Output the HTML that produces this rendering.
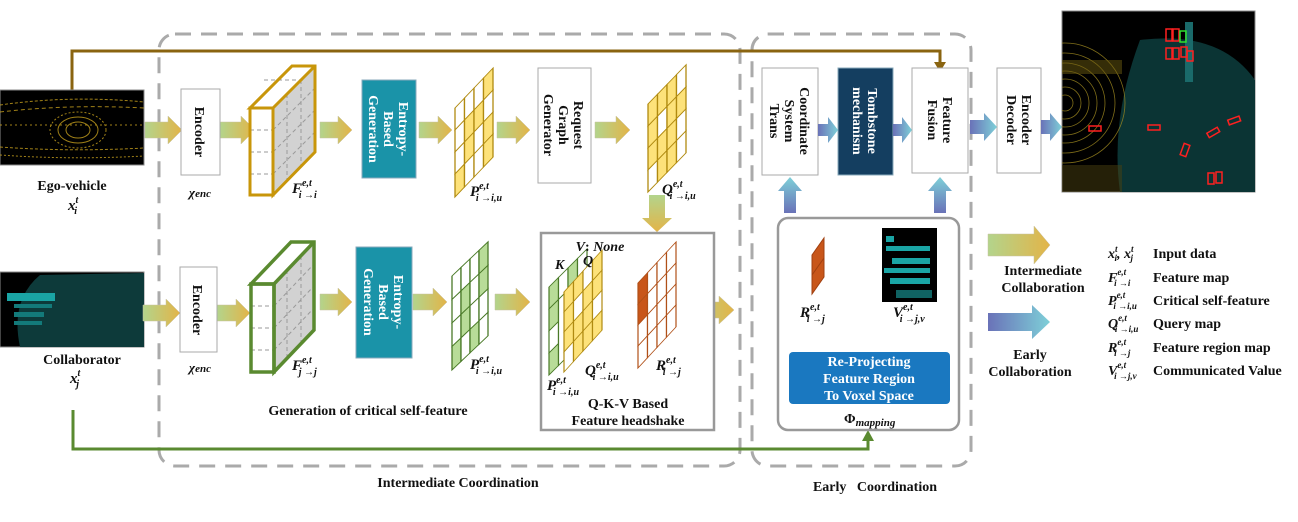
<!DOCTYPE html>
<html><head><meta charset="utf-8">
<style>
html,body{margin:0;padding:0;background:#fff;}
svg{display:block;}
text{font-family:"Liberation Serif",serif;font-weight:bold;fill:#111;}
.m{font-style:italic;}
.w{fill:#fff;}
</style></head>
<body>
<svg width="1298" height="522" viewBox="0 0 1298 522" xmlns="http://www.w3.org/2000/svg">
<defs>
<linearGradient id="ga" x1="0" y1="0" x2="1" y2="0"><stop offset="0" stop-color="#b3d48c"/><stop offset="1" stop-color="#e3b448"/></linearGradient>
<linearGradient id="gav" x1="0" y1="0" x2="0" y2="1"><stop offset="0" stop-color="#b3d48c"/><stop offset="1" stop-color="#e3b448"/></linearGradient>
<linearGradient id="gb" x1="0" y1="0" x2="1" y2="0"><stop offset="0" stop-color="#6a72b8"/><stop offset="1" stop-color="#7ed0d8"/></linearGradient>
<linearGradient id="gbu" x1="0" y1="1" x2="0" y2="0"><stop offset="0" stop-color="#6a72b8"/><stop offset="1" stop-color="#7ed0d8"/></linearGradient>
<linearGradient id="gbd" x1="0" y1="0" x2="0" y2="1"><stop offset="0" stop-color="#6a72b8"/><stop offset="1" stop-color="#7ed0d8"/></linearGradient>
<clipPath id="cres"><rect x="1062" y="11" width="193" height="181"/></clipPath>
<clipPath id="cego"><rect x="0" y="90" width="144" height="75"/></clipPath>
</defs>

<!-- dashed containers -->
<rect x="159" y="34" width="581" height="432" rx="16" fill="none" stroke="#aaa" stroke-width="3" stroke-dasharray="16,10"/>
<rect x="752" y="34" width="219" height="432" rx="16" fill="none" stroke="#aaa" stroke-width="3" stroke-dasharray="16,10"/>
<text x="458" y="487" font-size="14" text-anchor="middle">Intermediate Coordination</text>
<text x="875" y="491" font-size="14" text-anchor="middle">Early&#160;&#160; Coordination</text>

<!-- ego top line -->
<polyline points="72,90 72,51 940,51 940,64" fill="none" stroke="#8a6410" stroke-width="3"/>
<polygon points="934,62 946,62 940,72" fill="#8a6410"/>
<!-- green bottom line -->
<polyline points="73,410 73,449 868,449 868,440" fill="none" stroke="#5a8a30" stroke-width="3"/>
<polygon points="862,441 874,441 868,430" fill="#5a8a30"/>

<!-- ego image -->
<rect x="0" y="90" width="144" height="75" fill="#000" stroke="#888"/>
<g stroke="#c9a21e" fill="none" stroke-width="1" opacity="0.8" clip-path="url(#cego)">
<path d="M0,105 Q70,95 144,102" stroke-dasharray="3,2"/>
<path d="M0,112 Q70,104 144,108" stroke-dasharray="4,3"/>
<path d="M0,147 Q70,152 144,148" stroke-dasharray="3,2"/>
<path d="M0,155 Q70,160 144,156" stroke-dasharray="2,2"/>
<ellipse cx="78" cy="130" rx="12" ry="8"/><ellipse cx="78" cy="130" rx="20" ry="13"/><ellipse cx="78" cy="130" rx="28" ry="18" stroke-dasharray="2,2"/>
<line x1="0" y1="125" x2="144" y2="125" stroke-dasharray="2,3"/>
</g>
<text x="72" y="190" font-size="14" text-anchor="middle">Ego-vehicle</text>
<text x="68" y="210" font-size="15" class="m">x<tspan dy="-7" font-size="10">t</tspan><tspan dx="-4" dy="11" font-size="10">i</tspan></text>

<!-- collaborator image -->
<rect x="0" y="272" width="144" height="75" fill="#000" stroke="#888"/>
<path d="M20,347 Q10,300 40,275 L144,273 L144,347 Z" fill="#0d3a3a"/>
<rect x="7" y="293" width="48" height="8" fill="#1aa5a5"/>
<rect x="14" y="304" width="38" height="4" fill="#137a7a"/>
<rect x="14" y="312" width="30" height="5" fill="#137a7a"/>
<rect x="14" y="321" width="28" height="4" fill="#137a7a"/>
<text x="82" y="364" font-size="14" text-anchor="middle">Collaborator</text>
<text x="70" y="383" font-size="15" class="m">x<tspan dy="-7" font-size="10">t</tspan><tspan dx="-4" dy="11" font-size="10">j</tspan></text>

<!-- gold arrows -->
<g fill="url(#ga)" stroke="#c8c0a0" stroke-width="0.5">
<polygon points="145,122 168,122 168,116 182,130 168,144 168,138 145,138"/>
<polygon points="220,122 241,122 241,116 255,130 241,144 241,138 220,138"/>
<polygon points="320,122 338,122 338,116 352,130 338,144 338,138 320,138"/>
<polygon points="419,122 438,122 438,116 452,130 438,144 438,138 419,138"/>
<polygon points="497,122 516,122 516,116 530,130 516,144 516,138 497,138"/>
<polygon points="595,122 616,122 616,116 630,130 616,144 616,138 595,138"/>
<polygon points="143,305 166,305 166,299 180,313 166,327 166,321 143,321"/>
<polygon points="217,305 236,305 236,299 250,313 236,327 236,321 217,321"/>
<polygon points="320,294 338,294 338,288 352,302 338,316 338,310 320,310"/>
<polygon points="413,294 433,294 433,288 447,302 433,316 433,310 413,310"/>
<polygon points="495,294 516,294 516,288 530,302 516,316 516,310 495,310"/>
<polygon points="602,302 624,302 624,296 638,310 624,324 624,318 602,318"/>
<polygon points="685,302 719,302 719,296 734,310 719,324 719,318 685,318"/>
<polygon points="988,234 1034,234 1034,226 1050,245 1034,264 1034,256 988,256"/>
</g>
<polygon points="649,195 665,195 665,218 672,218 657,232 642,218 649,218" fill="url(#gav)"/>

<!-- encoders -->
<rect x="181" y="89" width="39" height="86" fill="#fff" stroke="#aaa"/>
<text transform="translate(200,132) rotate(90)" x="0" y="5" font-size="14" text-anchor="middle">Encoder</text>
<text x="200" y="197" font-size="13" text-anchor="middle" font-weight="normal" class="m">χ<tspan font-size="11">enc</tspan></text>
<rect x="180" y="267" width="37" height="85" fill="#fff" stroke="#aaa"/>
<text transform="translate(198,310) rotate(90)" x="0" y="5" font-size="14" text-anchor="middle">Encoder</text>
<text x="200" y="372" font-size="13" text-anchor="middle" font-weight="normal" class="m">χ<tspan font-size="11">enc</tspan></text>

<!-- gold cube -->
<polygon points="273,108 315,66 315,152 273,195" fill="#d2d2d2"/>
<polygon points="250,108 273,108 315,66 292,66" fill="#fff"/>
<rect x="250" y="108" width="23" height="87" fill="#fff"/>
<g stroke="#999" stroke-dasharray="4,3" fill="none">
<line x1="250" y1="130" x2="273" y2="130"/><line x1="250" y1="152" x2="273" y2="152"/><line x1="250" y1="174" x2="273" y2="174"/>
<line x1="287" y1="94" x2="287" y2="181"/><line x1="301" y1="80" x2="301" y2="167"/>
<line x1="273" y1="130" x2="315" y2="88"/><line x1="273" y1="152" x2="315" y2="110"/><line x1="273" y1="174" x2="315" y2="132"/>
<line x1="264" y1="80" x2="306" y2="80"/>
</g>
<g fill="none" stroke="#c8960a" stroke-width="3" stroke-linejoin="miter">
<rect x="250" y="108" width="23" height="87"/>
<polygon points="250,108 292,66 315,66 315,152 273,195 273,108"/>
<line x1="273" y1="108" x2="315" y2="66"/>
</g>
<text x="292" y="193" font-size="15" class="m">F<tspan dy="-7" font-size="10">e,t</tspan><tspan dx="-13" dy="12" font-size="10">i →i</tspan></text>

<!-- green cube -->
<polygon points="274,284 314,242 314,330 274,372" fill="#d2d2d2"/>
<polygon points="251,284 274,284 314,242 291,242" fill="#fff"/>
<rect x="251" y="284" width="23" height="88" fill="#fff"/>
<g stroke="#999" stroke-dasharray="4,3" fill="none">
<line x1="251" y1="306" x2="274" y2="306"/><line x1="251" y1="328" x2="274" y2="328"/><line x1="251" y1="350" x2="274" y2="350"/>
<line x1="287" y1="270" x2="287" y2="358"/><line x1="301" y1="256" x2="301" y2="344"/>
<line x1="274" y1="306" x2="314" y2="264"/><line x1="274" y1="328" x2="314" y2="286"/><line x1="274" y1="350" x2="314" y2="308"/>
</g>
<g fill="none" stroke="#5a8a30" stroke-width="3.5">
<rect x="251" y="284" width="23" height="88"/>
<polygon points="251,284 291,242 314,242 314,330 274,372 274,284"/>
<line x1="274" y1="284" x2="314" y2="242"/>
</g>
<text x="292" y="370" font-size="15" class="m">F<tspan dy="-7" font-size="10">e,t</tspan><tspan dx="-13" dy="12" font-size="10">j →j</tspan></text>

<!-- entropy boxes -->
<rect x="362" y="80" width="54" height="98" fill="#1a93a8" stroke="#8ab"/>
<text transform="translate(389,129) rotate(90)" font-size="14" text-anchor="middle" class="w"><tspan x="0" y="-10">Entropy-</tspan><tspan x="0" y="5">Based</tspan><tspan x="0" y="20">Generation</tspan></text>
<rect x="356" y="247" width="56" height="111" fill="#1a93a8" stroke="#8ab"/>
<text transform="translate(384,302) rotate(90)" font-size="14" text-anchor="middle" class="w"><tspan x="0" y="-10">Entropy-</tspan><tspan x="0" y="5">Based</tspan><tspan x="0" y="20">Generation</tspan></text>

<!-- P grid top (gold) -->
<g transform="matrix(1,-1.05,0,1,455,108)" stroke="#b08a10" stroke-width="1.3">
<rect x="0" y="0" width="9.5" height="22" fill="#fff"/><rect x="9.5" y="0" width="9.5" height="22" fill="#fff"/><rect x="19" y="0" width="9.5" height="22" fill="#fff"/><rect x="28.5" y="0" width="9.5" height="22" fill="#fde27a"/>
<rect x="0" y="22" width="9.5" height="22" fill="#fff"/><rect x="9.5" y="22" width="9.5" height="22" fill="#fde27a"/><rect x="19" y="22" width="9.5" height="22" fill="#fde27a"/><rect x="28.5" y="22" width="9.5" height="22" fill="#fff"/>
<rect x="0" y="44" width="9.5" height="22" fill="#fff"/><rect x="9.5" y="44" width="9.5" height="22" fill="#fde27a"/><rect x="19" y="44" width="9.5" height="22" fill="#fff"/><rect x="28.5" y="44" width="9.5" height="22" fill="#fde27a"/>
<rect x="0" y="66" width="9.5" height="23" fill="#fde27a"/><rect x="9.5" y="66" width="9.5" height="23" fill="#fff"/><rect x="19" y="66" width="9.5" height="23" fill="#fff"/><rect x="28.5" y="66" width="9.5" height="23" fill="#fde27a"/>
</g>
<text x="470" y="196" font-size="15" class="m">P<tspan dy="-7" font-size="10">e,t</tspan><tspan dx="-13" dy="12" font-size="10">i →i,u</tspan></text>

<!-- Request graph generator -->
<rect x="538" y="68" width="53" height="115" fill="#fff" stroke="#aaa"/>
<text transform="translate(564,125) rotate(90)" font-size="14" text-anchor="middle"><tspan x="0" y="-10">Request</tspan><tspan x="0" y="5">Graph</tspan><tspan x="0" y="20">Generator</tspan></text>

<!-- Q grid top -->
<g transform="matrix(1,-1.03,0,1,648,104)" stroke="#b08a10" stroke-width="1.3">
<rect x="0" y="0" width="9.5" height="22" fill="#fde27a"/><rect x="9.5" y="0" width="9.5" height="22" fill="#fde27a"/><rect x="19" y="0" width="9.5" height="22" fill="#fde27a"/><rect x="28.5" y="0" width="9.5" height="22" fill="#fff"/>
<rect x="0" y="22" width="9.5" height="22" fill="#fde27a"/><rect x="9.5" y="22" width="9.5" height="22" fill="#fff"/><rect x="19" y="22" width="9.5" height="22" fill="#fde27a"/><rect x="28.5" y="22" width="9.5" height="22" fill="#fde27a"/>
<rect x="0" y="44" width="9.5" height="22" fill="#fde27a"/><rect x="9.5" y="44" width="9.5" height="22" fill="#fde27a"/><rect x="19" y="44" width="9.5" height="22" fill="#fde27a"/><rect x="28.5" y="44" width="9.5" height="22" fill="#fff"/>
<rect x="0" y="66" width="9.5" height="22" fill="#fff"/><rect x="9.5" y="66" width="9.5" height="22" fill="#fde27a"/><rect x="19" y="66" width="9.5" height="22" fill="#fde27a"/><rect x="28.5" y="66" width="9.5" height="22" fill="#fff"/>
</g>
<text x="662" y="194" font-size="15" class="m">Q<tspan dy="-7" font-size="10">e,t</tspan><tspan dx="-13" dy="12" font-size="10">i →i,u</tspan></text>

<!-- P grid bottom (green) -->
<g transform="matrix(1,-0.95,0,1,452,276)" stroke="#4a7a28" stroke-width="1.3">
<rect x="0" y="0" width="9" height="23.5" fill="#fff"/><rect x="9" y="0" width="9" height="23.5" fill="#fff"/><rect x="18" y="0" width="9" height="23.5" fill="#fff"/><rect x="27" y="0" width="9" height="23.5" fill="#b8dc98"/>
<rect x="0" y="23.5" width="9" height="23.5" fill="#fff"/><rect x="9" y="23.5" width="9" height="23.5" fill="#b8dc98"/><rect x="18" y="23.5" width="9" height="23.5" fill="#fff"/><rect x="27" y="23.5" width="9" height="23.5" fill="#b8dc98"/>
<rect x="0" y="47" width="9" height="23.5" fill="#fff"/><rect x="9" y="47" width="9" height="23.5" fill="#b8dc98"/><rect x="18" y="47" width="9" height="23.5" fill="#fff"/><rect x="27" y="47" width="9" height="23.5" fill="#fff"/>
<rect x="0" y="70.5" width="9" height="23.5" fill="#b8dc98"/><rect x="9" y="70.5" width="9" height="23.5" fill="#fff"/><rect x="18" y="70.5" width="9" height="23.5" fill="#b8dc98"/><rect x="27" y="70.5" width="9" height="23.5" fill="#fff"/>
</g>
<text x="470" y="369" font-size="15" class="m">P<tspan dy="-7" font-size="10">e,t</tspan><tspan dx="-13" dy="12" font-size="10">i →i,u</tspan></text>

<text x="368" y="415" font-size="14" text-anchor="middle">Generation of critical self-feature</text>

<!-- QKV box -->
<rect x="541" y="233" width="173" height="197" fill="#fff" stroke="#999" stroke-width="2.5"/>
<!-- K green -->
<g transform="matrix(1,-1,0,1,549,287)" stroke="#4a7a28" stroke-width="1.2">
<rect x="0" y="0" width="9.5" height="22" fill="#b8dc98"/><rect x="9.5" y="0" width="9.5" height="22" fill="#fff"/><rect x="19" y="0" width="9.5" height="22" fill="#b8dc98"/><rect x="28.5" y="0" width="9.5" height="22" fill="#fff"/>
<rect x="0" y="22" width="9.5" height="22" fill="#b8dc98"/><rect x="0" y="44" width="9.5" height="22" fill="#fff"/><rect x="0" y="66" width="9.5" height="22" fill="#b8dc98"/>
<rect x="9.5" y="22" width="9.5" height="66" fill="#fff"/>
</g>
<!-- Q yellow -->
<g transform="matrix(1,-1.1,0,1,564,292)" stroke="#b08a10" stroke-width="1.2">
<rect x="0" y="0" width="9.5" height="20" fill="#fde27a"/><rect x="9.5" y="0" width="9.5" height="20" fill="#fde27a"/><rect x="19" y="0" width="9.5" height="20" fill="#fff"/><rect x="28.5" y="0" width="9.5" height="20" fill="#fde27a"/>
<rect x="0" y="20" width="9.5" height="20" fill="#fde27a"/><rect x="9.5" y="20" width="9.5" height="20" fill="#fff"/><rect x="19" y="20" width="9.5" height="20" fill="#fde27a"/><rect x="28.5" y="20" width="9.5" height="20" fill="#fde27a"/>
<rect x="0" y="40" width="9.5" height="20" fill="#fde27a"/><rect x="9.5" y="40" width="9.5" height="20" fill="#fde27a"/><rect x="19" y="40" width="9.5" height="20" fill="#fde27a"/><rect x="28.5" y="40" width="9.5" height="20" fill="#fff"/>
<rect x="0" y="60" width="9.5" height="20" fill="#fff"/><rect x="9.5" y="60" width="9.5" height="20" fill="#fde27a"/><rect x="19" y="60" width="9.5" height="20" fill="#fde27a"/><rect x="28.5" y="60" width="9.5" height="20" fill="#fde27a"/>
</g>
<text x="600" y="251" font-size="14" text-anchor="middle" class="m">V<tspan font-style="normal">:</tspan> None</text>
<text x="555" y="269" font-size="14" class="m">K</text>
<text x="583" y="265" font-size="14" class="m">Q</text>
<!-- R orange -->
<g transform="matrix(1,-1.08,0,1,638,283)" stroke="#b05018" stroke-width="1.2" fill="#fff">
<rect x="0" y="0" width="9.5" height="21" fill="#c8561a"/><rect x="9.5" y="0" width="9.5" height="21"/><rect x="19" y="0" width="9.5" height="21"/><rect x="28.5" y="0" width="9.5" height="21"/>
<rect x="0" y="21" width="9.5" height="21" fill="#c8561a"/><rect x="9.5" y="21" width="9.5" height="21"/><rect x="19" y="21" width="9.5" height="21"/><rect x="28.5" y="21" width="9.5" height="21"/>
<rect x="0" y="42" width="9.5" height="21"/><rect x="9.5" y="42" width="9.5" height="21"/><rect x="19" y="42" width="9.5" height="21"/><rect x="28.5" y="42" width="9.5" height="21"/>
<rect x="0" y="63" width="9.5" height="22"/><rect x="9.5" y="63" width="9.5" height="22"/><rect x="19" y="63" width="9.5" height="22"/><rect x="28.5" y="63" width="9.5" height="22"/>
</g>
<text x="585" y="375" font-size="15" class="m">Q<tspan dy="-7" font-size="10">e,t</tspan><tspan dx="-13" dy="12" font-size="10">i →i,u</tspan></text>
<text x="547" y="390" font-size="15" class="m">P<tspan dy="-7" font-size="10">e,t</tspan><tspan dx="-13" dy="12" font-size="10">i →i,u</tspan></text>
<text x="656" y="370" font-size="15" class="m">R<tspan dy="-7" font-size="10">e,t</tspan><tspan dx="-13" dy="12" font-size="10">i →j</tspan></text>
<text x="628" y="408" font-size="14" text-anchor="middle">Q-K-V Based</text>
<text x="628" y="425" font-size="14" text-anchor="middle">Feature headshake</text>

<!-- Early section boxes -->
<rect x="762" y="68" width="56" height="107" fill="#fff" stroke="#aaa"/>
<text transform="translate(790,121) rotate(90)" font-size="14" text-anchor="middle"><tspan x="0" y="-10">Coordinate</tspan><tspan x="0" y="5">System</tspan><tspan x="0" y="20">Trans</tspan></text>
<rect x="838" y="68" width="55" height="107" fill="#143e60" stroke="#8ab"/>
<text transform="translate(865,121) rotate(90)" font-size="14" text-anchor="middle" class="w"><tspan x="0" y="-3">Tombstone</tspan><tspan x="0" y="12">mechanism</tspan></text>
<rect x="912" y="68" width="56" height="105" fill="#fff" stroke="#aaa"/>
<text transform="translate(940,120) rotate(90)" font-size="14" text-anchor="middle"><tspan x="0" y="-3">Feature</tspan><tspan x="0" y="12">Fusion</tspan></text>
<rect x="997" y="68" width="44" height="105" fill="#fff" stroke="#aaa"/>
<text transform="translate(1019,120) rotate(90)" font-size="14" text-anchor="middle"><tspan x="0" y="-3">Encoder</tspan><tspan x="0" y="12">Decoder</tspan></text>

<!-- blue arrows -->
<g fill="url(#gb)">
<polygon points="818,124 828,124 828,117 838,130 828,143 828,136 818,136"/>
<polygon points="893,124 902,124 902,117 912,130 902,143 902,136 893,136"/>
<polygon points="970,120 984,120 984,113 997,127 984,141 984,134 970,134"/>
<polygon points="1041,120 1050,120 1050,113 1062,127 1050,141 1050,134 1041,134"/>
<polygon points="988,313 1032,313 1032,305 1050,322 1032,339 1032,331 988,331"/>
</g>
<g fill="url(#gbu)">
<polygon points="784,213 796,213 796,191 802,191 790,177 778,191 784,191"/>
<polygon points="934,213 946,213 946,191 952,191 940,177 928,191 934,191"/>
<polygon points="899,352 911,352 911,343 917,343 905,330 893,343 899,343"/>
</g>
<polygon points="806,333 818,333 818,342 824,342 812,353 800,342 806,342" fill="url(#gbd)"/>

<!-- inner early box -->
<rect x="778" y="218" width="181" height="212" rx="10" fill="#fff" stroke="#999" stroke-width="2.5"/>
<polygon points="812,255 824,238 824,277 812,294" fill="#c8561a" stroke="#a04010"/>
<line x1="812" y1="275" x2="824" y2="258" stroke="#a04010"/>
<rect x="882" y="228" width="55" height="74" fill="#000"/>
<g fill="#1aa5a5">
<rect x="886" y="236" width="8" height="6"/><rect x="886" y="246" width="44" height="5"/><rect x="892" y="258" width="38" height="6"/><rect x="884" y="268" width="46" height="5"/><rect x="890" y="278" width="40" height="6"/><rect x="896" y="290" width="36" height="8" opacity="0.6"/>
</g>
<text x="800" y="317" font-size="15" class="m">R<tspan dy="-7" font-size="10">e,t</tspan><tspan dx="-13" dy="12" font-size="10">i →j</tspan></text>
<text x="893" y="317" font-size="15" class="m">V<tspan dy="-7" font-size="10">e,t</tspan><tspan dx="-13" dy="12" font-size="10">i →j,v</tspan></text>
<rect x="789" y="352" width="161" height="52" rx="4" fill="#1a78c0"/>
<text font-size="14" text-anchor="middle" class="w"><tspan x="869" y="366">Re-Projecting</tspan><tspan x="869" y="383">Feature Region</tspan><tspan x="869" y="400">To Voxel Space</tspan></text>
<text x="844" y="423" font-size="14">Φ<tspan class="m" font-size="11" dy="3">mapping</tspan></text>

<!-- result image -->
<rect x="1062" y="11" width="193" height="181" fill="#000" stroke="#888"/>
<g clip-path="url(#cres)">
<path d="M1140,40 Q1220,30 1255,80 L1255,192 L1120,192 Q1110,120 1140,40 Z" fill="#0b3434"/>
<g fill="none" stroke="#a08a20" stroke-width="0.8" opacity="0.8">
<circle cx="1065" cy="103" r="8"/><circle cx="1065" cy="103" r="16"/><circle cx="1065" cy="103" r="24"/><circle cx="1065" cy="103" r="32"/><circle cx="1065" cy="103" r="40"/><circle cx="1065" cy="103" r="50"/><circle cx="1065" cy="103" r="60"/>
</g>
<rect x="1062" y="60" width="60" height="14" fill="#6a5a10" opacity="0.5"/>
<rect x="1062" y="165" width="60" height="27" fill="#4a4010" opacity="0.5"/>
<rect x="1185" y="22" width="8" height="60" fill="#1a6a6a"/>
</g>
<g fill="none" stroke="#ff2020" stroke-width="1.5">
<rect x="1166" y="29" width="6" height="12"/><rect x="1173" y="29" width="6" height="12"/><rect x="1166" y="48" width="6" height="11"/><rect x="1173" y="48" width="6" height="11"/><rect x="1181" y="47" width="6" height="10"/><rect x="1187" y="51" width="6" height="10"/>
<rect x="1089" y="126" width="12" height="5"/><rect x="1148" y="125" width="12" height="5"/><rect x="1207" y="130" width="12" height="5" transform="rotate(-30 1213 132)"/><rect x="1228" y="118" width="12" height="5" transform="rotate(-20 1234 120)"/><rect x="1182" y="144" width="6" height="12" transform="rotate(20 1185 150)"/><rect x="1208" y="173" width="6" height="11"/><rect x="1216" y="172" width="6" height="11"/>
</g>
<rect x="1180" y="31" width="6" height="11" fill="none" stroke="#30e030" stroke-width="1.5"/>

<!-- legend -->
<text x="1043" y="275" font-size="14" text-anchor="middle">Intermediate</text>
<text x="1043" y="292" font-size="14" text-anchor="middle">Collaboration</text>
<text x="1030" y="359" font-size="14" text-anchor="middle">Early</text>
<text x="1030" y="376" font-size="14" text-anchor="middle">Collaboration</text>
<g font-size="14">
<text x="1108" y="258" class="m">x<tspan dy="-6" font-size="9">t</tspan><tspan dx="-3" dy="9" font-size="9">i</tspan><tspan dy="-3">, x</tspan><tspan dy="-6" font-size="9">t</tspan><tspan dx="-3" dy="9" font-size="9">j</tspan></text>
<text x="1108" y="282" class="m">F<tspan dy="-7" font-size="9">e,t</tspan><tspan dx="-12" dy="11" font-size="9">i →i</tspan></text>
<text x="1108" y="305" class="m">P<tspan dy="-7" font-size="9">e,t</tspan><tspan dx="-12" dy="11" font-size="9">i →i,u</tspan></text>
<text x="1108" y="328" class="m">Q<tspan dy="-7" font-size="9">e,t</tspan><tspan dx="-12" dy="11" font-size="9">i →i,u</tspan></text>
<text x="1108" y="352" class="m">R<tspan dy="-7" font-size="9">e,t</tspan><tspan dx="-12" dy="11" font-size="9">i →j</tspan></text>
<text x="1108" y="375" class="m">V<tspan dy="-7" font-size="9">e,t</tspan><tspan dx="-12" dy="11" font-size="9">i →j,v</tspan></text>
<text x="1153" y="258">Input data</text>
<text x="1153" y="282">Feature map</text>
<text x="1153" y="305">Critical self-feature</text>
<text x="1153" y="328">Query map</text>
<text x="1153" y="352">Feature region map</text>
<text x="1153" y="375">Communicated Value</text>
</g>
</svg>
</body></html>
